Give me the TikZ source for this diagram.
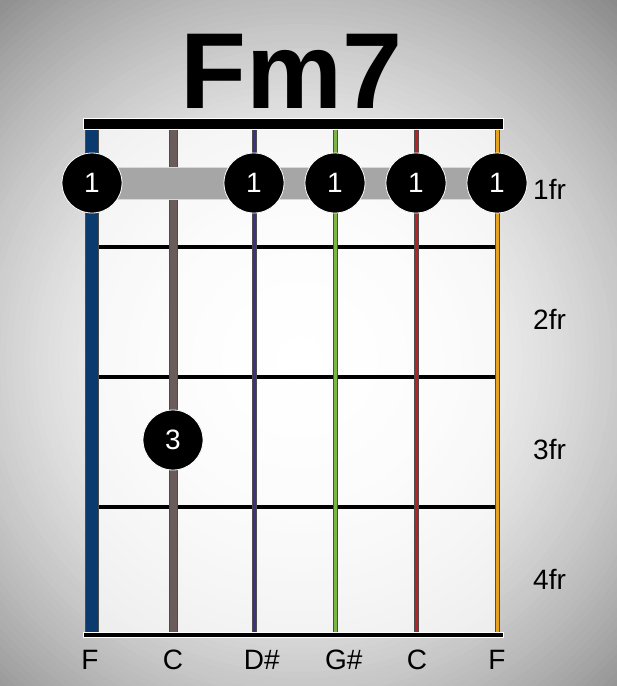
\documentclass[tikz,border=0pt]{standalone}
\usepackage{fontspec}
\setmainfont{Liberation Sans}
\usepackage{tikz}
\usetikzlibrary{positioning}

\definecolor{strblue}{HTML}{0B3A6E}
\definecolor{strbrown}{HTML}{6B5C5C}
\definecolor{strpurple}{HTML}{40307E}
\definecolor{strgreen}{HTML}{7DB446}
\definecolor{strred}{HTML}{B52326}
\definecolor{strorange}{HTML}{E7A21F}
\definecolor{barregray}{HTML}{A6A6A6}

\begin{document}
\begin{tikzpicture}[x=1pt, y=-1pt,
    finger/.style={circle, fill=black, draw=white, line width=0.8pt, minimum size=60pt, inner sep=0pt, text=white, font=\fontsize{28}{28}\selectfont},
    fretlabel/.style={anchor=base west, inner sep=0pt, font=\fontsize{28}{28}\selectfont},
    notelabel/.style={anchor=base, inner sep=0pt, font=\fontsize{28}{28}\selectfont},
    fretwire/.style={line width=4pt, black},
    guitarstring/.style={draw=black!70, line width=0.5pt}]
      \useasboundingbox (0,0) rectangle (617,686);

      % Background with a soft vignette, built from rings
      \begin{scope}
        \clip (0,0) rectangle (617,686);
        \foreach \r in {486,480,...,6} {
          \pgfmathsetmacro\shadeval{46*(\r/480)^2}
          \fill[black!\shadeval] (300,360) circle (\r pt);
        }
      \end{scope}

      % Title
      \node[anchor=base, inner sep=0pt, font=\fontsize{108}{108}\selectfont\bfseries] at (292,108) (title) {Fm7};

      % Fretboard
      \fill[white, opacity=0.7] (98,129) rectangle (497,632);
      \draw[fretwire] (98,247) -- (497,247);
      \draw[fretwire] (98,377) -- (497,377);
      \draw[fretwire] (98,507) -- (497,507);

      % Strings, low to high
      \filldraw[guitarstring, fill=strblue] (85,129) rectangle (98,632);
      \filldraw[guitarstring, fill=strbrown] (169,129) rectangle (177,632);
      \filldraw[guitarstring, fill=strpurple] (252,129) rectangle (256,632);
      \filldraw[guitarstring, fill=strgreen] (333,129) rectangle (337,632);
      \filldraw[guitarstring, fill=strred] (414,129) rectangle (418,632);
      \filldraw[guitarstring, fill=strorange] (495.5,129) rectangle (499.5,632);

      % Nut and bottom edge
      \filldraw[fill=black, draw=white, line width=0.6pt] (83,118) rectangle (503,129);
      \filldraw[fill=black, draw=white, line width=0.6pt] (83,632) rectangle (503,637);

      % Barre on the first fret
      \filldraw[fill=barregray, draw=white!85!black, line width=0.8pt] (92,167) rectangle (497,199);

      % Fingers
      \node[finger] at (92,183) (b1) {1};
      \node[finger] at (254,183) (b3) {1};
      \node[finger] at (335,183) (b4) {1};
      \node[finger] at (416,183) (b5) {1};
      \node[finger] at (497,183) (b6) {1};
      \node[finger] at (173,440) (f3) {3};

      % Fret numbers
      \node[fretlabel] at (533,199) (fr1) {1fr};
      \node[fretlabel] at (533,329) (fr2) {2fr};
      \node[fretlabel] at (533,459) (fr3) {3fr};
      \node[fretlabel] at (533,589) (fr4) {4fr};

      % String notes
      \node[notelabel] at (90,669) (n1) {F};
      \node[notelabel] at (173,669) (n2) {C};
      \node[notelabel] at (254,669) (n3) {D\rlap{\#}};
      \node[notelabel] at (336,669) (n4) {G\rlap{\#}};
      \node[notelabel] at (417,669) (n5) {C};
      \node[notelabel] at (497,669) (n6) {F};
\end{tikzpicture}
\end{document}
